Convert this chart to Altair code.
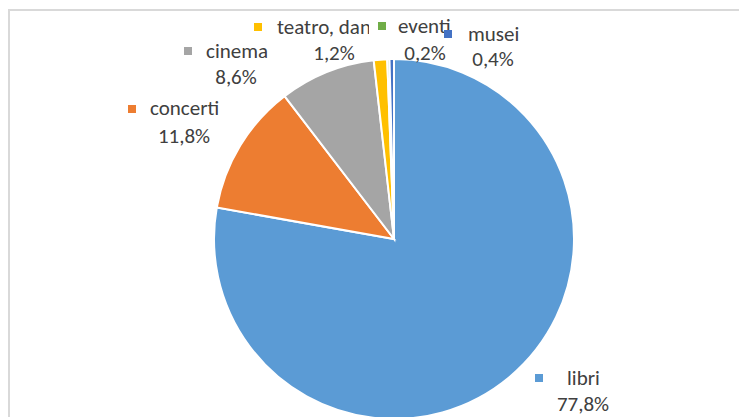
import altair as alt
import pandas as pd

# ---- data ----
categories = ["libri", "concerti", "cinema", "teatro, danza", "eventi", "musei"]
values = [77.8, 11.8, 8.6, 1.2, 0.2, 0.4]
colors = ["#5B9BD5", "#ED7D31", "#A5A5A5", "#FFC000", "#70AD47", "#4472C4"]

# ---- label layout (pixel positions inside the chart) ----
marker_x = [531, 124, 180, 250, 374, 440]
marker_y = [370, 101, 43, 19, 18, 26]
name_x = [559, 142, 198, 269, 390, 460]
name_y = [371, 101, 44, 20, 19, 27]
pct_x = [575, 176, 228, 326, 417, 485]
pct_y = [397, 129, 70, 46, 46, 52]

pct_labels = [f"{v:.1f}".replace(".", ",") + "%" for v in values]

df = pd.DataFrame({
    "cat": categories,
    "value": values,
    "idx": list(range(len(categories))),
    "color": colors,
    "pct": pct_labels,
    "mx": marker_x, "my": marker_y,
    "nx": name_x, "ny": name_y,
    "px": pct_x, "py": pct_y,
})

FONT = "Carlito, Liberation Sans, Arial, sans-serif"
TXT = "#404040"
FS = 21

frame = alt.Chart(pd.DataFrame({"a": [0]})).mark_rect(
    fill="white", stroke="#D9D9D9", strokeWidth=2
).encode(x=alt.value(1), x2=alt.value(900), y=alt.value(2), y2=alt.value(900))

pie = alt.Chart(df).mark_arc(outerRadius=180, stroke="white", strokeWidth=2).encode(
    theta=alt.Theta("value:Q", stack=True),
    order=alt.Order("idx:Q"),
    color=alt.Color("cat:N", scale=alt.Scale(domain=categories, range=colors), legend=None),
    x=alt.value(386),
    y=alt.value(231),
)

names = alt.Chart(df).mark_text(
    align="left", baseline="middle", font=FONT, fontSize=FS, color=TXT
).encode(
    x=alt.X("nx:Q", scale=None),
    y=alt.Y("ny:Q", scale=None),
    text="cat:N",
)

# white background of the "eventi" label, overlapping the neighbouring label
mask = alt.Chart(pd.DataFrame({"a": [0]})).mark_rect(fill="white").encode(
    x=alt.value(361),
    x2=alt.value(389),
    y=alt.value(7),
    y2=alt.value(32),
)

markers = alt.Chart(df).mark_square(size=64, opacity=1).encode(
    x=alt.X("mx:Q", scale=None),
    y=alt.Y("my:Q", scale=None),
    color=alt.Color("color:N", scale=None),
)

pcts = alt.Chart(df).mark_text(
    align="center", baseline="middle", font=FONT, fontSize=FS, color=TXT
).encode(
    x=alt.X("px:Q", scale=None),
    y=alt.Y("py:Q", scale=None),
    text="pct:N",
)

chart = alt.layer(frame, pie, names, mask, markers, pcts).properties(
    width=731, height=409, padding=0, autosize="none"
).configure_view(stroke=None)

chart.save("out.html", embed_options={"renderer": "svg", "actions": False})
